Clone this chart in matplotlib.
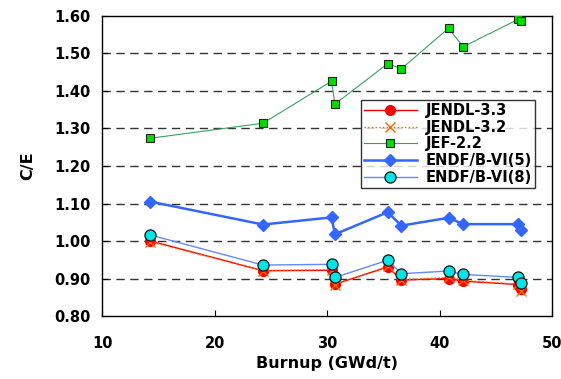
import matplotlib
matplotlib.use('Agg')
import matplotlib.pyplot as plt

plt.rcParams['font.family'] = ['DejaVu Sans']
plt.rcParams['font.weight'] = 'bold'

# burnup of each sample (GWd/t)
burnup = [14.3, 24.3, 30.4, 30.7, 35.4, 36.6, 40.8, 42.1, 47.0, 47.2]

jendl33 = [1.000, 0.921, 0.922, 0.885, 0.931, 0.896, 0.900, 0.893, 0.884, 0.871]
jendl32 = [0.998, 0.921, 0.924, 0.883, 0.933, 0.897, 0.903, 0.895, 0.885, 0.868]
jef22 = [1.274, 1.314, 1.426, 1.365, 1.473, 1.459, 1.567, 1.518, 1.591, 1.587]
endf5 = [1.105, 1.044, 1.063, 1.018, 1.077, 1.041, 1.062, 1.045, 1.045, 1.029]
endf8 = [1.016, 0.936, 0.938, 0.903, 0.949, 0.913, 0.920, 0.911, 0.903, 0.887]

yticks = [0.80, 0.90, 1.00, 1.10, 1.20, 1.30, 1.40, 1.50, 1.60]
xticks = [10, 20, 30, 40, 50]

fig = plt.figure(figsize=(5.61, 3.79), dpi=100)
ax = fig.add_axes([0.182, 0.166, 0.802, 0.792])

for y in yticks[1:-1]:
    ax.axhline(y, color='#333333', lw=1.0, ls=(0, (6, 4)), zorder=0)

ax.plot(burnup, jendl33, color='red', lw=1.0, marker='o', ms=7,
        mfc='red', mec='red', label='JENDL-3.3', zorder=3)
ax.plot(burnup, jendl32, color='#ff6600', lw=1.0, ls=':', marker='x', ms=7,
        mew=1.0, label='JENDL-3.2', zorder=4)
ax.plot(burnup, jef22, color='#3aa060', lw=0.8, marker='s', ms=6,
        mfc='#00dd00', mec='#222222', mew=0.8, label='JEF-2.2', zorder=3)
ax.plot(burnup, endf5, color='#3366ff', lw=1.8, marker='D', ms=6,
        mfc='#3366ff', mec='#3366ff', label='ENDF/B-VI(5)', zorder=3)
ax.plot(burnup, endf8, color='#6688ff', lw=1.0, marker='o', ms=8,
        mfc='#00e5e5', mec='#111111', mew=0.9, label='ENDF/B-VI(8)', zorder=5)

ax.set_xlim(10, 50)
ax.set_ylim(0.80, 1.60)
ax.set_xticks(xticks)
ax.set_yticks(yticks)
ax.set_yticklabels([f'{v:.2f}' for v in yticks])
ax.tick_params(direction='in', length=4, labelsize=10.5, pad=8)
ax.tick_params(axis='x', pad=14)
for s in ax.spines.values():
    s.set_linewidth(1.0)

ax.set_xlabel('Burnup (GWd/t)', fontsize=11.5, fontweight='bold', labelpad=4)
ax.set_ylabel('C/E', fontsize=11.5, fontweight='bold', labelpad=14)

leg = ax.legend(loc='upper left', bbox_to_anchor=(0.576, 0.72), fontsize=10.5,
                frameon=True, fancybox=False, edgecolor='black',
                handlelength=3.6, borderpad=0.2, labelspacing=0.12,
                handletextpad=0.6, borderaxespad=0)
leg.get_frame().set_linewidth(1.0)

fig.savefig('out.png', dpi=100)
